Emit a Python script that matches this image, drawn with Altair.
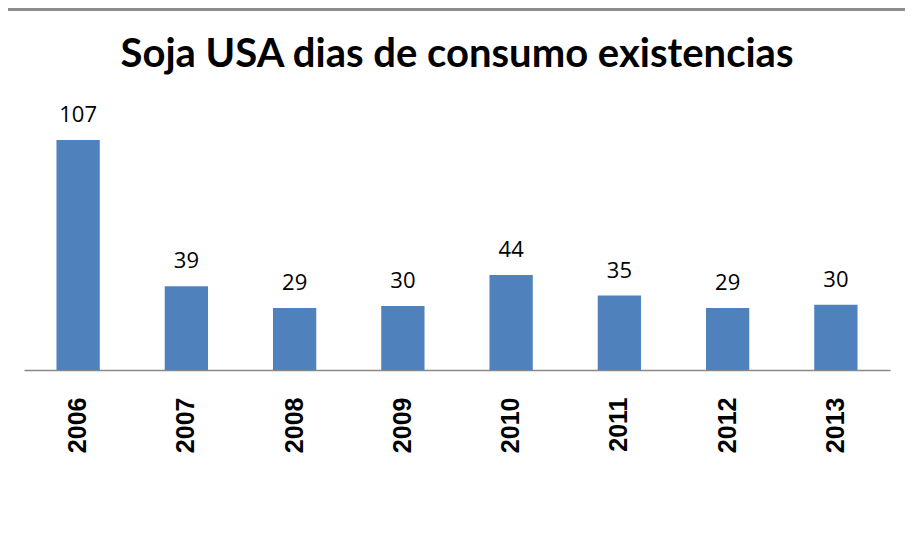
import altair as alt
import pandas as pd

years = ["2006", "2007", "2008", "2009", "2010", "2011", "2012", "2013"]
values = [107, 39, 28.8, 29.8, 44.2, 34.6, 28.8, 30.4]
labels = ["107", "39", "29", "30", "44", "35", "29", "30"]

df = pd.DataFrame({"year": years, "value": values, "label": labels})

W, H = 866, 258

base = alt.Chart(df).encode(
    x=alt.X("year:N", sort=years, title=None,
            scale=alt.Scale(paddingInner=0.6, paddingOuter=0.3),
            axis=alt.Axis(labelAngle=-90, labelFont="Liberation Sans", labelFontWeight="bold",
                          labelFontSize=25, labelColor="#000000", ticks=False, labelPadding=27,
                          domainColor="#898989", domainWidth=1.5, labelAlign="right",
                          labelBaseline="middle")),
    y=alt.Y("value:Q", scale=alt.Scale(domain=[0, 120]), axis=None),
)

bars = base.mark_bar(color="#4F81BD")
text = base.mark_text(baseline="bottom", dy=-13, font="Open Sans", fontSize=22,
                      color="#000000").encode(text="label:N")

border = alt.Chart(df).mark_rule(color="#8c8c8c", strokeWidth=3).encode(
    x=alt.value(-16), x2=alt.value(W + 15), y=alt.value(-102.5)
)

chart = alt.layer(border, bars, text).properties(
    width=W, height=H,
    autosize=alt.AutoSizeParams(type="none"),
    padding={"left": 16, "top": 104, "right": 15, "bottom": 150},
    title=alt.TitleParams("Soja USA dias de consumo existencias",
                          font="Lato",
                          fontSize=40, fontWeight="bold", color="#000000",
                          anchor="middle", offset=-99, baseline="alphabetic"),
).configure_view(stroke=None)

chart.save("out.html", embed_options={"renderer": "svg", "actions": False})
